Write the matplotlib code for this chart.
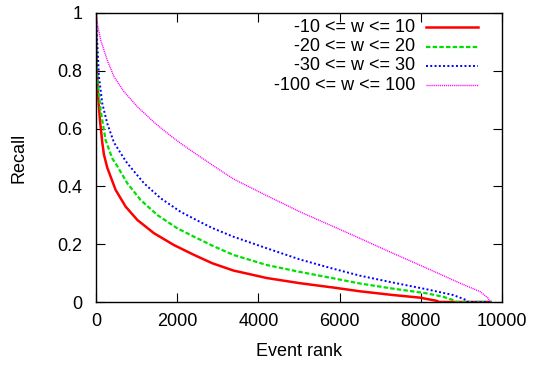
import numpy as np
import matplotlib
matplotlib.use("Agg")
import matplotlib.pyplot as plt
from matplotlib.lines import Line2D

# Recall vs. event rank for several window widths w
labels = ["-10 <= w <= 10", "-20 <= w <= 20", "-30 <= w <= 30", "-100 <= w <= 100"]

rank_10 = [0, 10, 25, 49, 98, 156, 197, 278, 484, 731, 1018, 1429, 1921, 2414,
           2865, 3382, 4204, 5025, 5846, 6502, 7323, 7980, 8391, 8450, 9750]
recall_10 = [1.0, 0.87, 0.79, 0.722, 0.63, 0.552, 0.51, 0.465, 0.388, 0.33, 0.284,
             0.238, 0.197, 0.163, 0.134, 0.109, 0.083, 0.065, 0.050, 0.037, 0.024,
             0.015, 0.004, 0.0, 0.0]

rank_20 = [0, 15, 33, 115, 238, 402, 525, 772, 1100, 1511, 2003, 2414, 2865,
           3382, 4204, 5025, 5846, 6502, 7323, 8144, 8554, 8842, 8870, 9750]
recall_20 = [1.0, 0.86, 0.78, 0.664, 0.56, 0.497, 0.47, 0.411, 0.353, 0.301,
             0.255, 0.226, 0.195, 0.163, 0.128, 0.104, 0.082, 0.064, 0.046, 0.030,
             0.018, 0.004, 0.0, 0.0]

rank_30 = [0, 33, 74, 156, 278, 443, 690, 772, 1182, 1593, 2085, 2578, 2865,
           3382, 4204, 5025, 5846, 6502, 7323, 8144, 8800, 9130, 9160, 9750]
recall_30 = [1.0, 0.895, 0.78, 0.687, 0.618, 0.552, 0.497, 0.48, 0.411, 0.359,
             0.312, 0.276, 0.256, 0.226, 0.186, 0.147, 0.115, 0.091, 0.067, 0.044,
             0.024, 0.006, 0.0, 0.0]

rank_100 = [0, 33, 115, 278, 443, 690, 1018, 1429, 1839, 2126, 2414, 2865, 3382,
            4204, 5025, 5846, 6502, 7323, 8144, 8965, 9458, 9663, 9704, 9750]
recall_100 = [1.0, 0.964, 0.907, 0.837, 0.78, 0.728, 0.676, 0.622, 0.575, 0.545,
              0.517, 0.474, 0.426, 0.368, 0.312, 0.261, 0.22, 0.168, 0.117, 0.065,
              0.036, 0.013, 0.0, 0.0]

ranks = [rank_10, rank_20, rank_30, rank_100]
recalls = [recall_10, recall_20, recall_30, recall_100]

# gnuplot-like line styles
colors = ["#ff0000", "#00e000", "#0000ff", "#ff00ff"]
widths = [1.8, 1.6, 1.4, 1.0]
dashes = [None, (2.0, 1.0), (1.0, 1.2), (0.8, 0.6)]

plt.rcParams["font.family"] = "Liberation Sans"
fig = plt.figure(figsize=(5.33, 3.65), dpi=100)
ax = fig.add_axes([0.180, 0.1726, 0.762, 0.7918])

for x, y, c, lw, d in zip(ranks, recalls, colors, widths, dashes):
    (ln,) = ax.plot(x, y, color=c, lw=lw, solid_capstyle="butt")
    if d is not None:
        ln.set_dashes(d)

ax.set_xlim(0, 10000)
ax.set_ylim(0, 1)
ax.set_xticks(np.arange(0, 10001, 2000))
ax.set_yticks(np.arange(0, 1.01, 0.2))
ax.set_yticklabels(["0", "0.2", "0.4", "0.6", "0.8", "1"])
ax.tick_params(direction="in", length=6.5, width=0.8, top=True, right=True,
               labelsize=13)
ax.tick_params(axis="x", pad=8)
ax.tick_params(axis="y", pad=9.5)
for s in ax.spines.values():
    s.set_linewidth(1.0)
ax.set_xlabel("Event rank", fontsize=13, labelpad=9)
ax.set_ylabel("Recall", fontsize=13, labelpad=22)

# key in the upper right, text right-aligned before the line sample
for i, (lab, c, lw, d) in enumerate(zip(labels, colors, widths, dashes)):
    yk = 0.95 - i * 0.0664
    ax.text(0.786, yk, lab, transform=ax.transAxes, ha="right", va="center",
            fontsize=13)
    ln = Line2D([0.813, 0.941], [yk, yk], transform=ax.transAxes, color=c, lw=lw)
    if d is not None:
        ln.set_dashes(d)
    ax.add_line(ln)

fig.savefig("out.png", dpi=100)
